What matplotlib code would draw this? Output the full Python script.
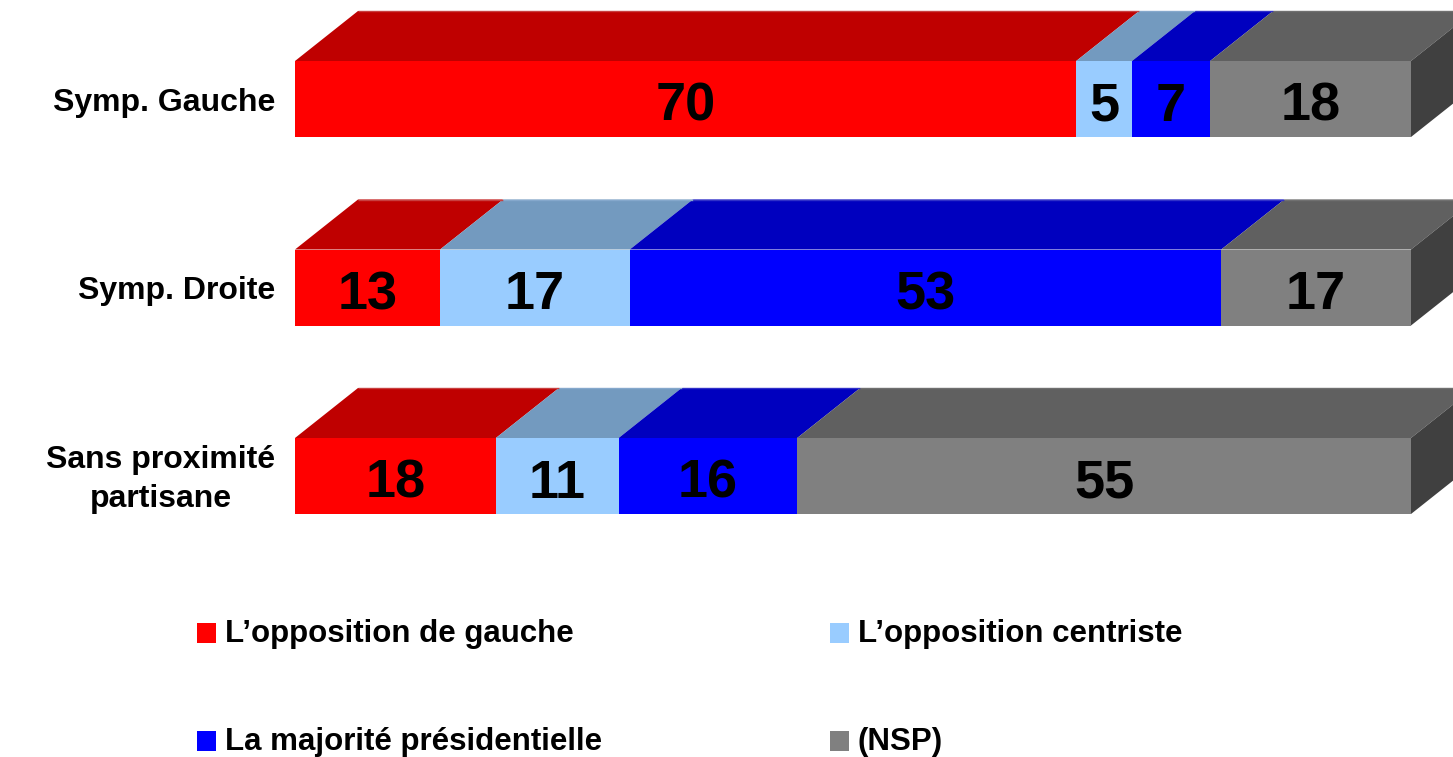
import matplotlib
matplotlib.use("Agg")
import matplotlib.pyplot as plt
from matplotlib.patches import Polygon, Rectangle

plt.rcParams['font.family'] = ['Liberation Sans', 'DejaVu Sans']

categories = ["Symp. Gauche", "Symp. Droite", "Sans proximité\npartisane"]
series = ["L\u2019opposition de gauche", "L\u2019opposition centriste",
          "La majorité présidentielle", "(NSP)"]
opp_gauche = [70, 13, 18]
opp_centriste = [5, 17, 11]
majorite = [7, 53, 16]
nsp = [18, 17, 55]
values = [opp_gauche, opp_centriste, majorite, nsp]

front_colors = ["#FF0000", "#99CCFF", "#0000FF", "#808080"]
top_colors = ["#BF0000", "#739ABF", "#0000BF", "#606060"]
top_edges = ["#C84040", "#85A8CC", "#3030C8", "#707070"]
side_color = "#404040"

W, H = 1453, 757
fig = plt.figure(figsize=(W / 100, H / 100), dpi=100)
ax = fig.add_axes([0, 0, 1, 1])
ax.set_axis_off()

# percent axis: 0 -> 295 px, 100 -> 1411 px
px_per_unit = (1411 - 295) / 100
ax.set_xlim(-295 / px_per_unit, (W - 295) / px_per_unit)
# category axis: centres 188.5 px apart, first centre at 99 px
row_px = 188.5
ax.set_ylim((H - 99) / row_px, -99 / row_px)

bar_h = 76 / row_px
dx = 63 / px_per_unit
dy = 50 / row_px

for i, cat in enumerate(categories):
    top = i - bar_h / 2
    bot = i + bar_h / 2
    left = 0
    for s, vals in enumerate(values):
        v = vals[i]
        right = left + v
        ax.add_patch(Polygon([(left, top), (right, top), (right + dx, top - dy),
                              (left + dx, top - dy)], closed=True,
                             facecolor=top_colors[s], edgecolor='none', zorder=1))
        ax.plot([left + dx, right + dx], [top - dy, top - dy], color=top_edges[s],
                lw=1, solid_capstyle='butt', zorder=1.5)
        ax.add_patch(Rectangle((left, top), v, bar_h, facecolor=front_colors[s],
                               edgecolor='none', zorder=2))
        ax.text(left + v / 2, i + 0.04, f"{v}", ha='center', va='center',
                fontsize=39, fontweight='bold', color='black', zorder=4)
        left = right
    ax.add_patch(Polygon([(left, top), (left + dx, top - dy), (left + dx, bot - dy),
                          (left, bot)], closed=True, facecolor=side_color,
                         edgecolor='none', zorder=3))
    ax.text(-20 / px_per_unit, i + 0.02, cat, ha='right', va='center',
            multialignment='center', fontsize=23, fontweight='bold',
            color='black', linespacing=1.38)

# legend, two columns by two rows
leg_x = [197, 830]
leg_y = [633, 741]
for s, name in enumerate(series):
    cx = leg_x[s % 2]
    cy = leg_y[s // 2]
    fig.add_artist(Rectangle((cx / W, 1 - (cy + 10) / H), 19 / W, 20 / H,
                             transform=fig.transFigure, facecolor=front_colors[s],
                             edgecolor='none'))
    fig.text((cx + 28) / W, 1 - (cy + 1) / H, name, ha='left', va='center',
             fontsize=22.5, fontweight='bold', color='black')

fig.savefig("out.png", dpi=100)
